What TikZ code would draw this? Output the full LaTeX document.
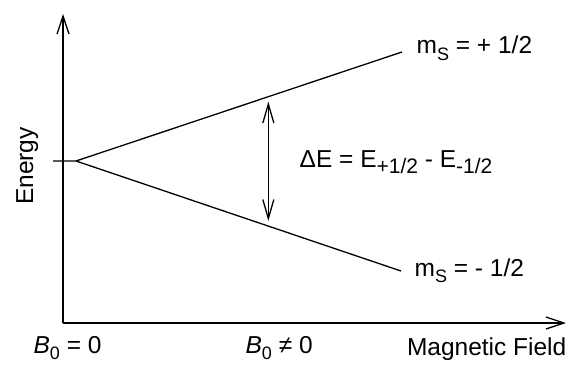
\documentclass[tikz,border=0pt]{standalone}
\usepackage{fontspec}
\setmainfont{Liberation Sans}
\usetikzlibrary{calc, arrows.meta}
\newcommand{\lowsub}[1]{\raisebox{-6.5pt}{\fontsize{18}{18}\selectfont #1}}
\newcommand{\lowsubE}[1]{\raisebox{-6.5pt}{\fontsize{21}{21}\selectfont #1}}

\begin{document}
\begin{tikzpicture}[x=1pt, y=1pt, line width=1.3pt,
    lbl/.style={inner sep=0pt, font=\fontsize{24.5}{28}\selectfont},
    barb/.style={-{Straight Barb[length=18pt, width=12pt]}},
    splitarrow/.style={{Straight Barb[length=19pt, width=11pt]}-{Straight Barb[length=19pt, width=11pt]},
      shorten <=5pt, shorten >=5pt}]
  \useasboundingbox (0,0) rectangle (570,365);
  % Axes
  \coordinate (O) at (63,42);
  \coordinate (ytop) at (63,351);
  \coordinate (xend) at (566,42);
  \draw[barb] (O) -- (ytop);
  \draw[barb] (O) -- (xend);
  % Zero-field level and its two branches
  \coordinate (tick) at (53,204);
  \coordinate (split) at (76,204);
  \coordinate (up) at (402,313);
  \coordinate (low) at (401,94);
  \draw (tick) -- (split) -- (up);
  \draw (split) -- (low);
  % Energy gap
  \coordinate (gapTop) at ($(split)!0.59!(up)$);
  \coordinate (gapBot) at ($(split)!0.59!(low)$);
  \draw[splitarrow] (gapTop) -- (gapTop |- gapBot);
  % Labels
  \node[lbl, anchor=base west] (plus) at (416,311) {m\lowsub{S} = + 1/2};
  \node[lbl, anchor=base west] (minus) at (414,89) {m\lowsub{S} = - 1/2};
  \node[lbl, anchor=base west] (dE) at (299,198) {ΔE = E\lowsubE{+1/2} - E\lowsubE{-1/2}};
  \node[lbl, anchor=base, rotate=90] (energy) at (33,199) {Energy};
  \node[lbl, anchor=base west] (bzero) at (33,12) {\textit{B}\lowsub{0} = 0};
  \node[lbl, anchor=base west] (bnonzero) at (245,12) {\textit{B}\lowsub{0} ≠ 0};
  \node[lbl, anchor=base east] (field) at (567,10) {Magnetic Field};
\end{tikzpicture}
\end{document}
